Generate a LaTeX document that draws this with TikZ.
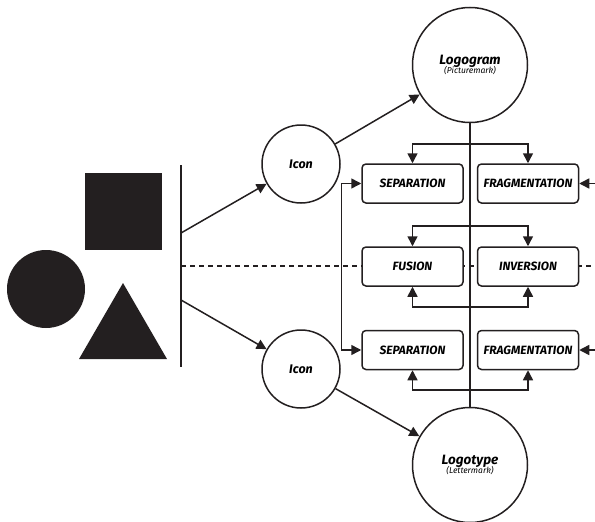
\documentclass[tikz,border=0pt]{standalone}
\usepackage{fontspec}
\setmainfont{Fira Sans}
\usetikzlibrary{arrows.meta,calc,backgrounds}
\definecolor{ink}{HTML}{231F20}
\begin{document}
\begin{tikzpicture}[x=1pt,y=-1pt,line width=1.5pt,draw=ink,
  tri/.style={-{Triangle[length=10pt,width=10pt]}},
  tritri/.style={{Triangle[length=10pt,width=10pt]}-{Triangle[length=10pt,width=10pt]}},
  opbox/.style={draw=ink,fill=white,rounded corners=4pt,minimum width=101pt,minimum height=39pt,inner sep=0pt,
    font=\fontsize{12}{14}\selectfont\bfseries\itshape},
  iconc/.style={draw=ink,fill=white,circle,minimum size=78pt,inner sep=0pt,font=\fontsize{12.5}{14}\selectfont\bfseries\itshape},
  bigc/.style={draw=ink,fill=white,circle,minimum size=115pt,inner sep=0pt,align=center},
  dashline/.style={dash pattern=on 5pt off 4pt}]
\useasboundingbox (0,0) rectangle (595,522);
% left shapes
\fill[ink] (85,173) rectangle (162,250);
\fill[ink] (46,289) circle (39);
\fill[ink] (123,283) -- (167,359) -- (79,359) -- cycle;
% vertical bar
\coordinate (vt) at (181,165);
\coordinate (vb) at (181,367);
\coordinate (va) at (181,233);
\coordinate (vc) at (181,300);
\coordinate (vm) at (181,266);
\coordinate (dr) at (595,266);
\draw (vt) -- (vb);
\draw[dashline] (vm) -- (dr);
% nodes
\node[iconc] (icon1) at (301,164) {Icon};
\node[iconc] (icon2) at (301,369) {Icon};
\node[bigc] (logogram) at (470,65) {{\fontsize{13.5}{15}\selectfont\bfseries\itshape Logogram}\\[-3pt]{\fontsize{8.5}{10}\selectfont\itshape (Picturemark)}};
\node[bigc] (logotype) at (470,465) {{\fontsize{13.5}{15}\selectfont\bfseries\itshape Logotype}\\[-3pt]{\fontsize{8.5}{10}\selectfont\itshape (Lettermark)}};
\node[opbox] (sep1) at (412.5,183.5) {SEPARATION};
\node[opbox] (frag1) at (528,183.5) {FRAGMENTATION};
\node[opbox] (fus) at (412.5,266.5) {FUSION};
\node[opbox] (inv) at (528,266.5) {INVERSION};
\node[opbox] (sep2) at (412.5,350) {SEPARATION};
\node[opbox] (frag2) at (528,350) {FRAGMENTATION};
\begin{scope}[on background layer]
\draw[line width=1.5pt,ink] (logogram) -- (logotype);
\end{scope}
% connectors
\draw[tri] (va) -- (icon1);
\draw[tri] (vc) -- (icon2);
\draw[tri] (icon1) -- (logogram);
\draw[tri] (icon2) -- (logotype);
\coordinate (b1) at (470,144);
\coordinate (b2) at (470,226);
\coordinate (b3) at (470,307);
\coordinate (b4) at (470,390);
\draw[tri] (b1) -| (sep1);
\draw[tri] (b1) -| (frag1);
\draw[tri] (b2) -| (fus);
\draw[tri] (b2) -| (inv);
\draw[tri] (b3) -| (fus);
\draw[tri] (b3) -| (inv);
\draw[tri] (b4) -| (sep2);
\draw[tri] (b4) -| (frag2);
\draw[tritri] (sep1.west) -- ++(-20,0) |- (sep2.west);
\coordinate (r1) at (595,183.5);
\coordinate (r2) at (595,350);
\draw[tri] (r1) -- (frag1);
\draw[tri] (r2) -- (frag2);
\end{tikzpicture}
\end{document}
